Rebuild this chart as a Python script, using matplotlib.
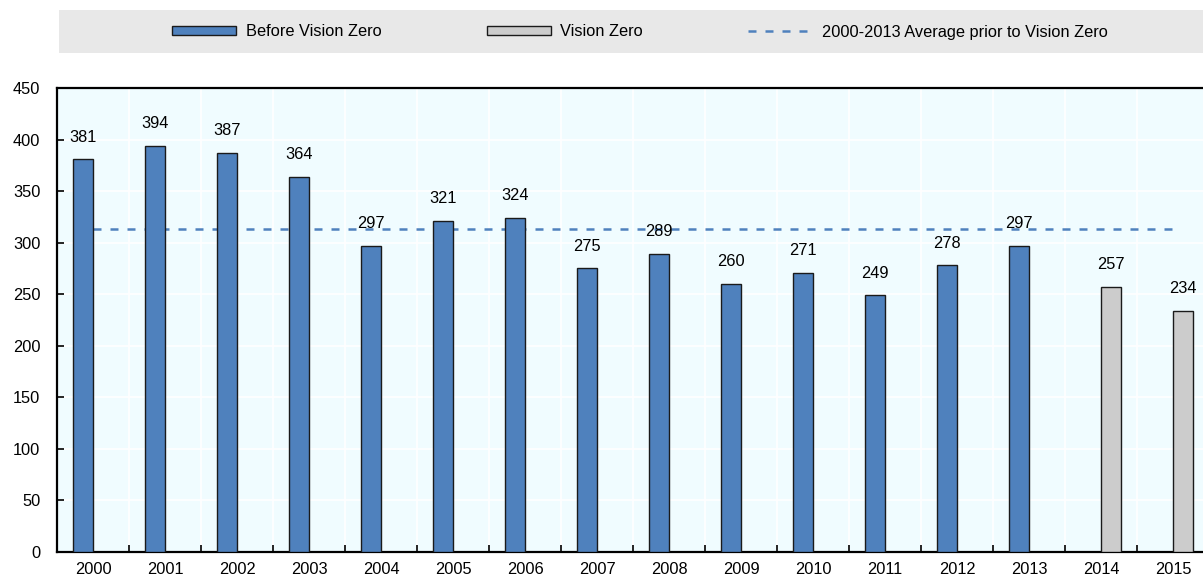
import matplotlib
matplotlib.use("Agg")
import matplotlib.pyplot as plt
from matplotlib.patches import Rectangle, Patch
from matplotlib.lines import Line2D
import numpy as np

plt.rcParams['font.family'] = ['Liberation Sans', 'DejaVu Sans']

years = ['2000', '2001', '2002', '2003', '2004', '2005', '2006', '2007',
         '2008', '2009', '2010', '2011', '2012', '2013', '2014', '2015']
before_vz = [381, 394, 387, 364, 297, 321, 324, 275, 289, 260, 271, 249, 278, 297, np.nan, np.nan]
vision_zero = [np.nan] * 14 + [257, 234]
average = 313.4
y_ticks = [0, 50, 100, 150, 200, 250, 300, 350, 400, 450]

blue = '#4f81bd'
grey = '#cccccc'
bg = '#f0fcff'
fs = 11.8

fig = plt.figure(figsize=(12.03, 5.79), dpi=100)
ax = fig.add_axes([57 / 1203, 27 / 579, 1152 / 1203, 464 / 579])
ax.set_facecolor(bg)

x = np.arange(len(years))
w = 0.28
off = 0.14

# average line sits behind the bars
ax.plot([x[0], x[-1]], [average, average], color=blue, lw=1.8,
        dashes=(3.2, 3.6), zorder=2)
ax.bar(x - off, before_vz, width=w, color=blue, edgecolor='#1a1a1a', lw=1.0, zorder=3)
ax.bar(x + off, vision_zero, width=w, color=grey, edgecolor='#1a1a1a', lw=1.0, zorder=3)

for xs, vals in [(x - off, before_vz), (x + off, vision_zero)]:
    for xi, v in zip(xs, vals):
        if not np.isnan(v):
            ax.annotate(str(int(v)), (xi, v), xytext=(0, 10.5), textcoords='offset points',
                        ha='center', va='bottom', fontsize=fs, zorder=5)

ax.set_xlim(-0.5, len(years) - 0.5)
ax.set_ylim(0, 450)
ax.set_yticks(y_ticks)
ax.set_xticks(x)
ax.set_xticklabels(years)
ax.set_xticks(np.arange(len(years) + 1) - 0.5, minor=True)

ax.tick_params(axis='x', which='major', length=0, pad=7, labelsize=fs)
ax.tick_params(axis='x', which='minor', direction='in', length=5, width=1.2)
ax.tick_params(axis='y', direction='in', length=5, width=1.2, pad=12, labelsize=fs)

ax.grid(axis='y', which='major', color='white', lw=1.2, zorder=0)
ax.grid(axis='x', which='minor', color='white', lw=1.2, zorder=0)
ax.set_axisbelow(True)

for s in ['left', 'bottom', 'top']:
    ax.spines[s].set_linewidth(1.6)
ax.spines['right'].set_visible(False)

# legend band
fig.patches.append(Rectangle((59 / 1203, 1 - 53 / 579), 1144 / 1203, 43 / 579,
                             transform=fig.transFigure, facecolor='#e8e8e8',
                             edgecolor='none', zorder=0))
handles = [Patch(facecolor=blue, edgecolor='#1a1a1a', lw=1.0),
           Patch(facecolor=grey, edgecolor='#1a1a1a', lw=1.0),
           Line2D([0], [0], color=blue, lw=1.8, dashes=(3.2, 3.6))]
labels = ['Before Vision Zero', 'Vision Zero', '2000-2013 Average prior to Vision Zero']
fig.legend(handles, labels, loc='center', bbox_to_anchor=(640 / 1203, 1 - 32 / 579),
           ncol=3, frameon=False, fontsize=fs, handlelength=3.9, handleheight=0.5,
           handletextpad=0.6, columnspacing=6.4)

fig.savefig('out.png', dpi=100)
